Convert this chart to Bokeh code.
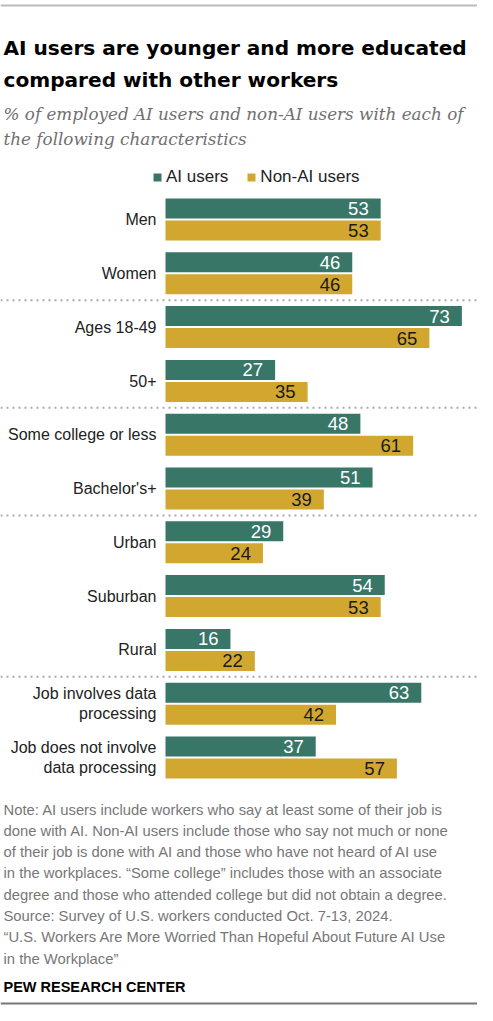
from bokeh.plotting import figure
from bokeh.models import Range1d, Label, Span, Legend, LegendItem, ColumnDataSource
from bokeh.core.properties import value
from bokeh.embed import file_html
from bokeh.resources import INLINE

# ---------------- data ----------------
CATEGORIES = ["Men", "Women", "Ages 18-49", "50+", "Some college or less",
              "Bachelor's+", "Urban", "Suburban", "Rural",
              "Job involves data\nprocessing", "Job does not involve\ndata processing"]
AI_USERS = [53, 46, 73, 27, 48, 51, 29, 54, 16, 63, 37]
NON_AI_USERS = [53, 46, 65, 35, 61, 39, 24, 53, 22, 42, 57]
SERIES_NAMES = ["AI users", "Non-AI users"]
SECTION_ENDS = [1, 3, 5, 8]   # dotted separator after these groups

TITLE_LINES = ["AI users are younger and more educated",
               "compared with other workers"]
SUBTITLE_LINES = ["% of employed AI users and non-AI users with each of",
                  "the following characteristics"]
NOTE_LINES = [
    "Note: AI users include workers who say at least some of their job is",
    "done with AI. Non-AI users include those who say not much or none",
    "of their job is done with AI and those who have not heard of AI use",
    "in the workplaces. \u201cSome college\u201d includes those with an associate",
    "degree and those who attended college but did not obtain a degree.",
    "Source: Survey of U.S. workers conducted Oct. 7-13, 2024.",
    "\u201cU.S. Workers Are More Worried Than Hopeful About Future AI Use",
    "in the Workplace\u201d",
]
CREDIT = "PEW RESEARCH CENTER"

# ---------------- layout / style ----------------
W, H = 477, 1005
PPU = 4.06          # pixels per percentage point
X0 = 165            # pixel where 0 sits
PITCH = 53.8
FIRST_AI_CENTER = 208
BAR_H = 20
PAIR_GAP = 22
GREEN = "#387668"
GOLD = "#d1a730"
FONT = "Liberation Sans"

def X(px):
    return (px - X0) / PPU

p = figure(width=W, height=H, output_backend="svg", toolbar_location=None,
           x_range=Range1d(X(0), X(W)), y_range=Range1d(H, 0),
           min_border=0, outline_line_color=None,
           x_axis_location=None, y_axis_location=None)
p.xgrid.visible = False
p.ygrid.visible = False
p.background_fill_color = "white"
p.border_fill_color = "white"

n = len(CATEGORIES)
ai_y = [FIRST_AI_CENTER + PITCH * i for i in range(n)]
non_y = [y + PAIR_GAP for y in ai_y]
grp_y = [y + PAIR_GAP / 2 for y in ai_y]

src_ai = ColumnDataSource(dict(y=ai_y, v=AI_USERS, t=[str(v) for v in AI_USERS]))
src_non = ColumnDataSource(dict(y=non_y, v=NON_AI_USERS, t=[str(v) for v in NON_AI_USERS]))
src_cat = ColumnDataSource(dict(y=grp_y, t=CATEGORIES))

r_ai = p.hbar(y="y", left=0, right="v", height=BAR_H, source=src_ai,
              fill_color=GREEN, line_color=None)
r_non = p.hbar(y="y", left=0, right="v", height=BAR_H, source=src_non,
               fill_color=GOLD, line_color=None)

p.text(x="v", y="y", text="t", source=src_ai, x_offset=-12,
       text_align="right", text_baseline="middle", text_color="white",
       text_font=value(FONT), text_font_size="18.5px")
p.text(x="v", y="y", text="t", source=src_non, x_offset=-12,
       text_align="right", text_baseline="middle", text_color="#1a1a1a",
       text_font=value(FONT), text_font_size="18.5px")

p.text(x=0, y="y", text="t", source=src_cat, x_offset=-9,
       text_align="right", text_baseline="middle", text_color="#222222",
       text_font=value(FONT), text_font_size="16px", text_line_height=1.2)

# dotted separators
for i in SECTION_ENDS:
    p.add_layout(Span(location=grp_y[i] + PITCH / 2, dimension="width",
                      line_color="#aaaaaa", line_width=2, line_dash="2 4"))

# top / bottom rules
p.add_layout(Span(location=5, dimension="width", line_color="#bbbbbb", line_width=2))
p.add_layout(Span(location=H - 2, dimension="width", line_color="#777777", line_width=2))

# legend
legend = Legend(items=[LegendItem(label=SERIES_NAMES[0], renderers=[r_ai]),
                       LegendItem(label=SERIES_NAMES[1], renderers=[r_non])],
                location=(152, H - 187), orientation="horizontal",
                glyph_width=10, glyph_height=10, label_standoff=4, spacing=18,
                padding=0, margin=0, background_fill_alpha=0, border_line_color=None,
                label_text_font=FONT, label_text_font_size="17px",
                label_text_color="#222222")
p.add_layout(legend)

# title, subtitle
for k, line in enumerate(TITLE_LINES):
    p.add_layout(Label(x=X(3), y=47 + 32 * k, text=line, text_font="DejaVu Sans",
                       text_font_size="20.1px", text_font_style="bold",
                       text_color="#000000", text_baseline="alphabetic"))
for k, line in enumerate(SUBTITLE_LINES):
    p.add_layout(Label(x=X(3), y=113 + 25 * k, text=line, text_font="DejaVu Serif",
                       text_font_size="16.8px", text_font_style="italic",
                       text_color="#707070", text_baseline="alphabetic"))

# notes
for k, line in enumerate(NOTE_LINES):
    p.add_layout(Label(x=X(3), y=809 + 21.3 * k, text=line, text_font=FONT,
                       text_font_size="14.8px", text_color="#777777",
                       text_baseline="alphabetic"))
p.add_layout(Label(x=X(3), y=986, text=CREDIT, text_font=FONT,
                   text_font_size="14.5px", text_font_style="bold",
                   text_color="#000000", text_baseline="alphabetic"))

open("out.html", "w").write(file_html(p, INLINE))
